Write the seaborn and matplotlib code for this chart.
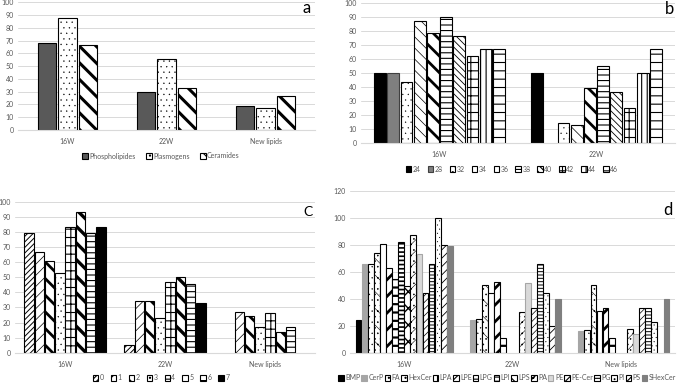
import matplotlib
matplotlib.use("Agg")
import matplotlib.pyplot as plt
import pandas as pd
import seaborn as sns

W, H = 677, 383

# ---------- data ----------
a_cats = ["16W", "22W", "New lipids"]
a_series = ["Phospholipides", "Plasmogens", "Ceramides"]
a_phospho = [68.5, 30, 18.5]
a_plasmo = [87.5, 56, 17]
a_cer = [67, 33, 27]

b_cats = ["16W", "22W"]
b_series = ["24", "28", "32", "34", "36", "38", "40", "42", "44", "46"]
b_16w = [50, 50, 43, 87, 78, 90, 76, 62, 67, 67]
b_22w = [50, 0, 14, 12.5, 39, 55, 36, 25, 50, 67]

c_cats = ["16W", "22W", "New lipids"]
c_series = ["0", "1", "2", "3", "4", "5", "6", "7"]
c_16w = [79, 67, 61, 53, 83, 93, 79, 83]
c_22w = [5, 34.5, 34.5, 23, 47, 50, 45.5, 33]
c_new = [0, 27, 24, 17, 26.5, 14, 17, 0]

d_cats = ["16W", "22W", "New lipids"]
d_series = ["BMP", "CerP", "FA", "HexCer", "LPA", "LPE", "LPG", "LPI", "LPS",
            "PA", "PE", "PE-Cer", "PG", "PI", "PS", "SHexCer"]
d_16w = [24, 66, 66, 74, 80.5, 62.5, 55, 82.5, 49.5, 87, 73.5, 44, 66, 100, 80, 79]
d_22w = [0, 24.5, 25, 50, 44, 52.5, 11, 0, 0, 30.5, 51.5, 33, 66, 44.5, 20, 40]
d_new = [0, 16, 17, 50, 31, 33, 11, 0, 0, 17.5, 14, 33, 33, 22.5, 0, 40]


def long_df(cats, series, by_cat):
    rows = []
    for s_i, s in enumerate(series):
        for c_i, c in enumerate(cats):
            rows.append({"cat": c, "series": s, "val": by_cat[c_i][s_i]})
    return pd.DataFrame(rows)


a_df = long_df(a_cats, a_series, [[a_phospho[i], a_plasmo[i], a_cer[i]] for i in range(3)])
b_df = long_df(b_cats, b_series, [b_16w, b_22w])
c_df = long_df(c_cats, c_series, [c_16w, c_22w, c_new])
d_df = long_df(d_cats, d_series, [d_16w, d_22w, d_new])

# (face, edge, hatch, hatch linewidth)
a_sty = [("#595959", "black", None, 0.8),
         ("white", "black", "...", 0.2),
         ("white", "black", "\\\\", 2.2)]
b_sty = [("black", "black", None, 0.8),
         ("#7f7f7f", "#404040", None, 0.8),
         ("white", "black", "...", 0.15),
         ("white", "black", "\\\\\\", 0.5),
         ("white", "black", "\\\\", 2.0),
         ("white", "black", "---", 0.8),
         ("white", "black", "\\\\\\\\\\", 0.6),
         ("white", "black", "++", 0.8),
         ("white", "black", "|||", 0.8),
         ("white", "black", "--", 0.8)]
c_sty = [("white", "black", "//////", 0.7),
         ("white", "black", "///", 0.5),
         ("white", "black", "\\\\", 2.0),
         ("white", "black", "...", 0.2),
         ("white", "black", "++", 0.8),
         ("white", "black", "\\\\", 2.4),
         ("white", "black", "---", 0.8),
         ("black", "black", None, 0.8)]
d_sty = [("black", "black", None, 0.8),
         ("#a6a6a6", "#a6a6a6", None, 0.8),
         ("white", "black", "...", 0.2),
         ("white", "black", "\\\\...", 0.4),
         ("white", "black", "||", 1.6),
         ("white", "black", "//", 2.0),
         ("white", "black", "--", 1.6),
         ("white", "black", "----", 1.2),
         ("white", "black", "xx", 1.0),
         ("white", "black", "///...", 0.4),
         ("#d9d9d9", "#a6a6a6", None, 0.8),
         ("white", "black", "/////", 0.5),
         ("white", "black", "-----", 0.7),
         ("white", "black", "....", 0.2),
         ("white", "black", "////", 0.6),
         ("#7f7f7f", "#7f7f7f", None, 0.8)]

sns.set_style("white")
plt.rcParams["font.family"] = ["Lato", "DejaVu Sans"]
plt.rcParams["hatch.linewidth"] = 0.8

fig = plt.figure(figsize=(W / 100, H / 100), dpi=100)


def rect(l, t, r, b):
    return [l / W, 1 - b / H, (r - l) / W, (b - t) / H]


def panel(box, df, cats, series, sty, width, gap, ymax, ystep, leg_xy, ncol, colsp):
    ax = fig.add_axes(rect(*box))
    sns.barplot(data=df, x="cat", y="val", hue="series", order=cats,
                hue_order=series, width=width, gap=gap, errorbar=None,
                palette=["white"] * len(series), legend=False, ax=ax)
    for cont, (fc, ec, hatch, hlw) in zip(ax.containers, sty):
        for p in cont.patches:
            p.set_facecolor(fc)
            p.set_edgecolor(ec)
            p.set_linewidth(0.8)
            p.set_hatch(hatch)
            if hasattr(p, "set_hatch_linewidth"):
                p.set_hatch_linewidth(hlw)
            if p.get_height() == 0:
                p.set_visible(False)
    ax.set_ylim(0, ymax)
    ax.set_yticks(range(0, ymax + 1, ystep))
    ax.set_xlim(-0.5, len(cats) - 0.5)
    ax.grid(axis="y", color="#d9d9d9", lw=0.7)
    ax.set_axisbelow(True)
    for s in ["top", "right", "left"]:
        ax.spines[s].set_visible(False)
    ax.spines["bottom"].set_color("#d9d9d9")
    ax.tick_params(axis="both", length=0, labelsize=5, colors="#595959")
    ax.tick_params(axis="y", pad=3)
    ax.tick_params(axis="x", pad=6)
    ax.set_xlabel("")
    ax.set_ylabel("")
    fig.legend(ax.containers, series, loc="center",
               bbox_to_anchor=(leg_xy[0] / W, 1 - leg_xy[1] / H),
               ncol=ncol, frameon=False, fontsize=5,
               handlelength=0.8, handleheight=0.8, handletextpad=0.2,
               columnspacing=colsp, labelcolor="#595959", borderaxespad=0,
               borderpad=0)
    return ax


panel((18, 2.5, 315, 130), a_df, a_cats, a_series, a_sty, 0.62, 0.12,
      100, 10, (161, 156), 3, 1.5)
panel((361, 2.7, 675, 142.7), b_df, b_cats, b_series, b_sty, 0.84, 0.1,
      100, 10, (512, 169), 10, 1.0)
panel((15, 201.7, 315, 352.7), c_df, c_cats, c_series, c_sty, 0.82, 0.08,
      100, 10, (161, 378), 8, 1.0)
panel((350, 191, 675, 352.7), d_df, d_cats, d_series, d_sty, 0.9, 0.05,
      120, 20, (507, 378), 16, 0.15)

fig.text(307 / W, 1 - 8 / H, "a", fontsize=12, color="black", ha="center", va="center")
fig.text(669 / W, 1 - 9 / H, "b", fontsize=12, color="black", ha="center", va="center")
fig.text(308 / W, 1 - 212 / H, "C", fontsize=10, color="black", ha="center", va="center")
fig.text(668 / W, 1 - 210 / H, "d", fontsize=12, color="black", ha="center", va="center")

fig.savefig("out.png", dpi=100)
